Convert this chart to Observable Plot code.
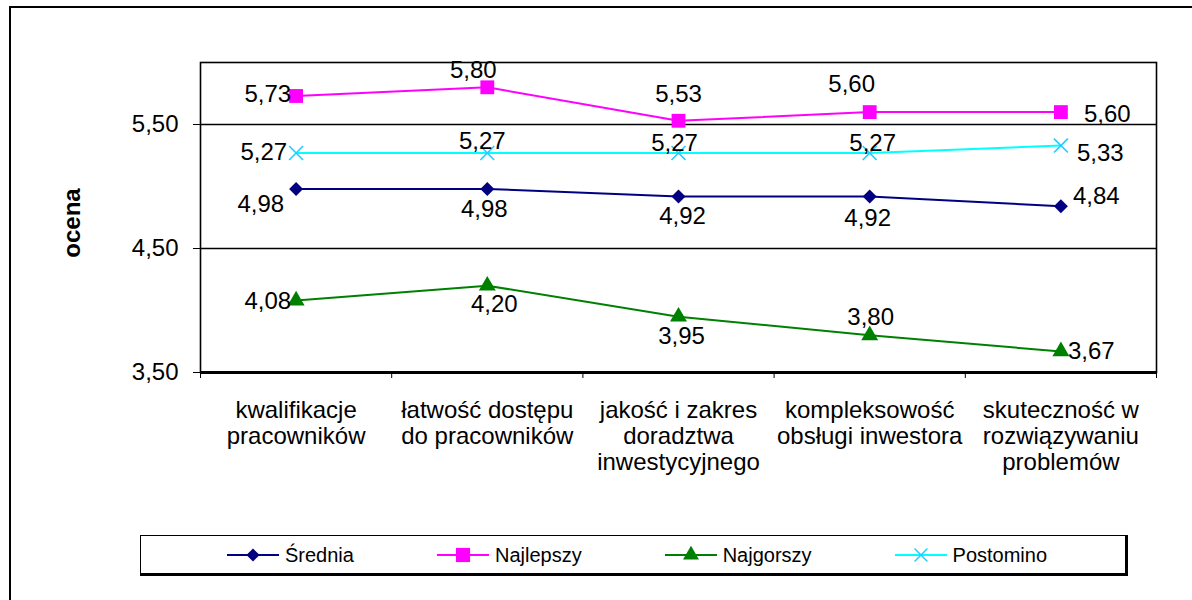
<!DOCTYPE html>
<html>
<head>
<meta charset="utf-8">
<script src="https://cdn.jsdelivr.net/npm/d3@7"></script>
<script src="https://cdn.jsdelivr.net/npm/@observablehq/plot@0.6"></script>
<style>
  html, body { margin: 0; padding: 0; background: #fff; }
  #wrap { position: relative; width: 1192px; height: 600px; overflow: hidden; font-family: "Liberation Sans", Arial, sans-serif; }
  #frame { position: absolute; left: 9px; top: 6px; width: 1300px; height: 700px; border: 2px solid #000; box-sizing: border-box; }
  #chart { position: absolute; left: 0; top: 0; }
  #legend { position: absolute; left: 140px; top: 535px; width: 988px; height: 41px; border: 1.5px solid #000; border-right-width: 3px; border-bottom-width: 3px; box-sizing: border-box; background: #fff; }
  #legend .items { position: absolute; left: 86px; top: 0; height: 100%; display: flex; align-items: center; gap: 83px; }
  #legend .item { display: flex; align-items: center; gap: 6px; }
  #legend .lbl { font-family: "Liberation Sans", Arial, sans-serif; font-size: 20px; color: #000; line-height: 1; }
</style>
</head>
<body>
<div id="wrap">
  <div id="frame"></div>
  <div id="chart"></div>
  <div id="legend"><div class="items"></div></div>
</div>
<script>
// ---- data ----
const categories = [
  "kwalifikacje\npracowników",
  "łatwość dostępu\ndo pracowników",
  "jakość i zakres\ndoradztwa\ninwestycyjnego",
  "kompleksowość\nobsługi inwestora",
  "skuteczność w\nrozwiązywaniu\nproblemów"
];
const seriesNames = ["Średnia", "Najlepszy", "Najgorszy", "Postomino"];
const srednia   = [4.98, 4.98, 4.92, 4.92, 4.84];
const najlepszy = [5.73, 5.80, 5.53, 5.60, 5.60];
const najgorszy = [4.08, 4.20, 3.95, 3.80, 3.67];
const postomino = [5.27, 5.27, 5.27, 5.27, 5.33];
const yTicks = [3.5, 4.5, 5.5];

// ---- styling / label layout (not data) ----
const colors  = {"Średnia": "#000080", "Najlepszy": "#FF00FF", "Najgorszy": "#008000", "Postomino": "#00FFFF"};
const markerColors = {"Średnia": "#000080", "Najlepszy": "#FF00FF", "Najgorszy": "#008000", "Postomino": "#22CCFF"};
const symbols = {"Średnia": "diamond2", "Najlepszy": "square", "Najgorszy": "triangle", "Postomino": "times"};
const symbolR = {"Średnia": 6.3, "Najlepszy": 7.8, "Najgorszy": 6.3, "Postomino": 6.4};
const labelLayout = {
  "Średnia":   [[-12, 15, "end"], [-3, 20, "middle"], [4, 20, "middle"], [-2, 22, "middle"], [12, -10, "start"]],
  "Najlepszy": [[-5, -2, "end"], [-14, -17, "middle"], [0, -26, "middle"], [-18, -28, "middle"], [23, 2, "start"]],
  "Najgorszy": [[-5, 1, "end"], [7, 19, "middle"], [3, 20, "middle"], [1, -18, "middle"], [7, 0, "start"]],
  "Postomino": [[-9, -1, "end"], [-5, -12, "middle"], [-4, -10, "middle"], [3, -10, "middle"], [16, 8, "start"]]
};

const values = {"Średnia": srednia, "Najlepszy": najlepszy, "Najgorszy": najgorszy, "Postomino": postomino};
const rows = seriesNames.flatMap(s => values[s].map((v, i) => ({series: s, i, cat: categories[i], value: v})));
const fmt = v => v.toFixed(2).replace(".", ",");

const marks = [
  Plot.ruleY(yTicks.slice(1), {stroke: "#000", strokeWidth: 1.6}),
  Plot.frame({stroke: "#000", strokeWidth: 1.6}),
  Plot.ruleY([3.5], {stroke: "#000", strokeWidth: 3.2}),
];
for (const s of seriesNames) {
  const data = rows.filter(d => d.series === s);
  marks.push(Plot.line(data, {x: d => d.i + 0.5, y: "value", stroke: colors[s], strokeWidth: 2}));
}
for (const s of seriesNames) {
  const data = rows.filter(d => d.series === s);
  if (symbols[s] === "times") {
    marks.push(Plot.dot(data, {x: d => d.i + 0.5, y: "value", symbol: "times", r: symbolR[s], stroke: markerColors[s], strokeWidth: 1.6}));
  } else {
    marks.push(Plot.dot(data, {x: d => d.i + 0.5, y: "value", symbol: symbols[s], r: symbolR[s], fill: markerColors[s], stroke: "none"}));
  }
}
for (const s of seriesNames) {
  rows.filter(d => d.series === s).forEach(d => {
    const [dx, dy, anchor] = labelLayout[s][d.i];
    marks.push(Plot.text([d], {x: d => d.i + 0.5, y: "value", text: d => fmt(d.value), dx, dy, textAnchor: anchor, lineAnchor: "middle", fontSize: 24, fill: "#000"}));
  });
}
marks.push(Plot.text(categories, {
  x: (d, i) => i + 0.5, frameAnchor: "bottom", dy: 27, lineAnchor: "top", text: d => d,
  fontSize: 24, lineHeight: 1.08, fill: "#000"
}));

const chart = Plot.plot({
  width: 1192, height: 530,
  marginTop: 62, marginLeft: 200, marginRight: 36, marginBottom: 158,
  style: {fontFamily: "Liberation Sans, Arial, sans-serif", fontSize: "24px", background: "transparent", color: "#000", overflow: "visible"},
  x: {domain: [0, categories.length], ticks: d3.range(categories.length + 1), tickFormat: () => "", tickSize: 6, label: null},
  y: {domain: [3.5, 6], ticks: yTicks, tickFormat: fmt, tickSize: 7, tickPadding: 15, label: null},
  marks
});
document.getElementById("chart").appendChild(chart);

// y-axis title
const svg = d3.select(chart);
svg.append("text").attr("transform", "translate(80,223) rotate(-90)").attr("text-anchor", "middle")
  .attr("font-weight", "bold").attr("font-size", 24).attr("fill", "#000").text("ocena");

// ---- legend ----
const items = d3.select("#legend .items");
for (const s of seriesNames) {
  const it = items.append("div").attr("class", "item");
  const sv = it.append("svg").attr("width", 52).attr("height", 20);
  sv.append("line").attr("x1", 0).attr("x2", 52).attr("y1", 10).attr("y2", 10).attr("stroke", colors[s]).attr("stroke-width", 2);
  const sym = {"diamond2": d3.symbolDiamond2, "square": d3.symbolSquare, "triangle": d3.symbolTriangle, "times": d3.symbolTimes}[symbols[s]];
  const size = s === "Najlepszy" ? 200 : 110;
  const p = sv.append("path").attr("transform", "translate(26,10)").attr("d", d3.symbol(sym, size)());
  if (symbols[s] === "times") p.attr("fill", "none").attr("stroke", markerColors[s]).attr("stroke-width", 1.5);
  else p.attr("fill", markerColors[s]);
  it.append("span").attr("class", "lbl").text(s);
}
</script>
</body>
</html>
